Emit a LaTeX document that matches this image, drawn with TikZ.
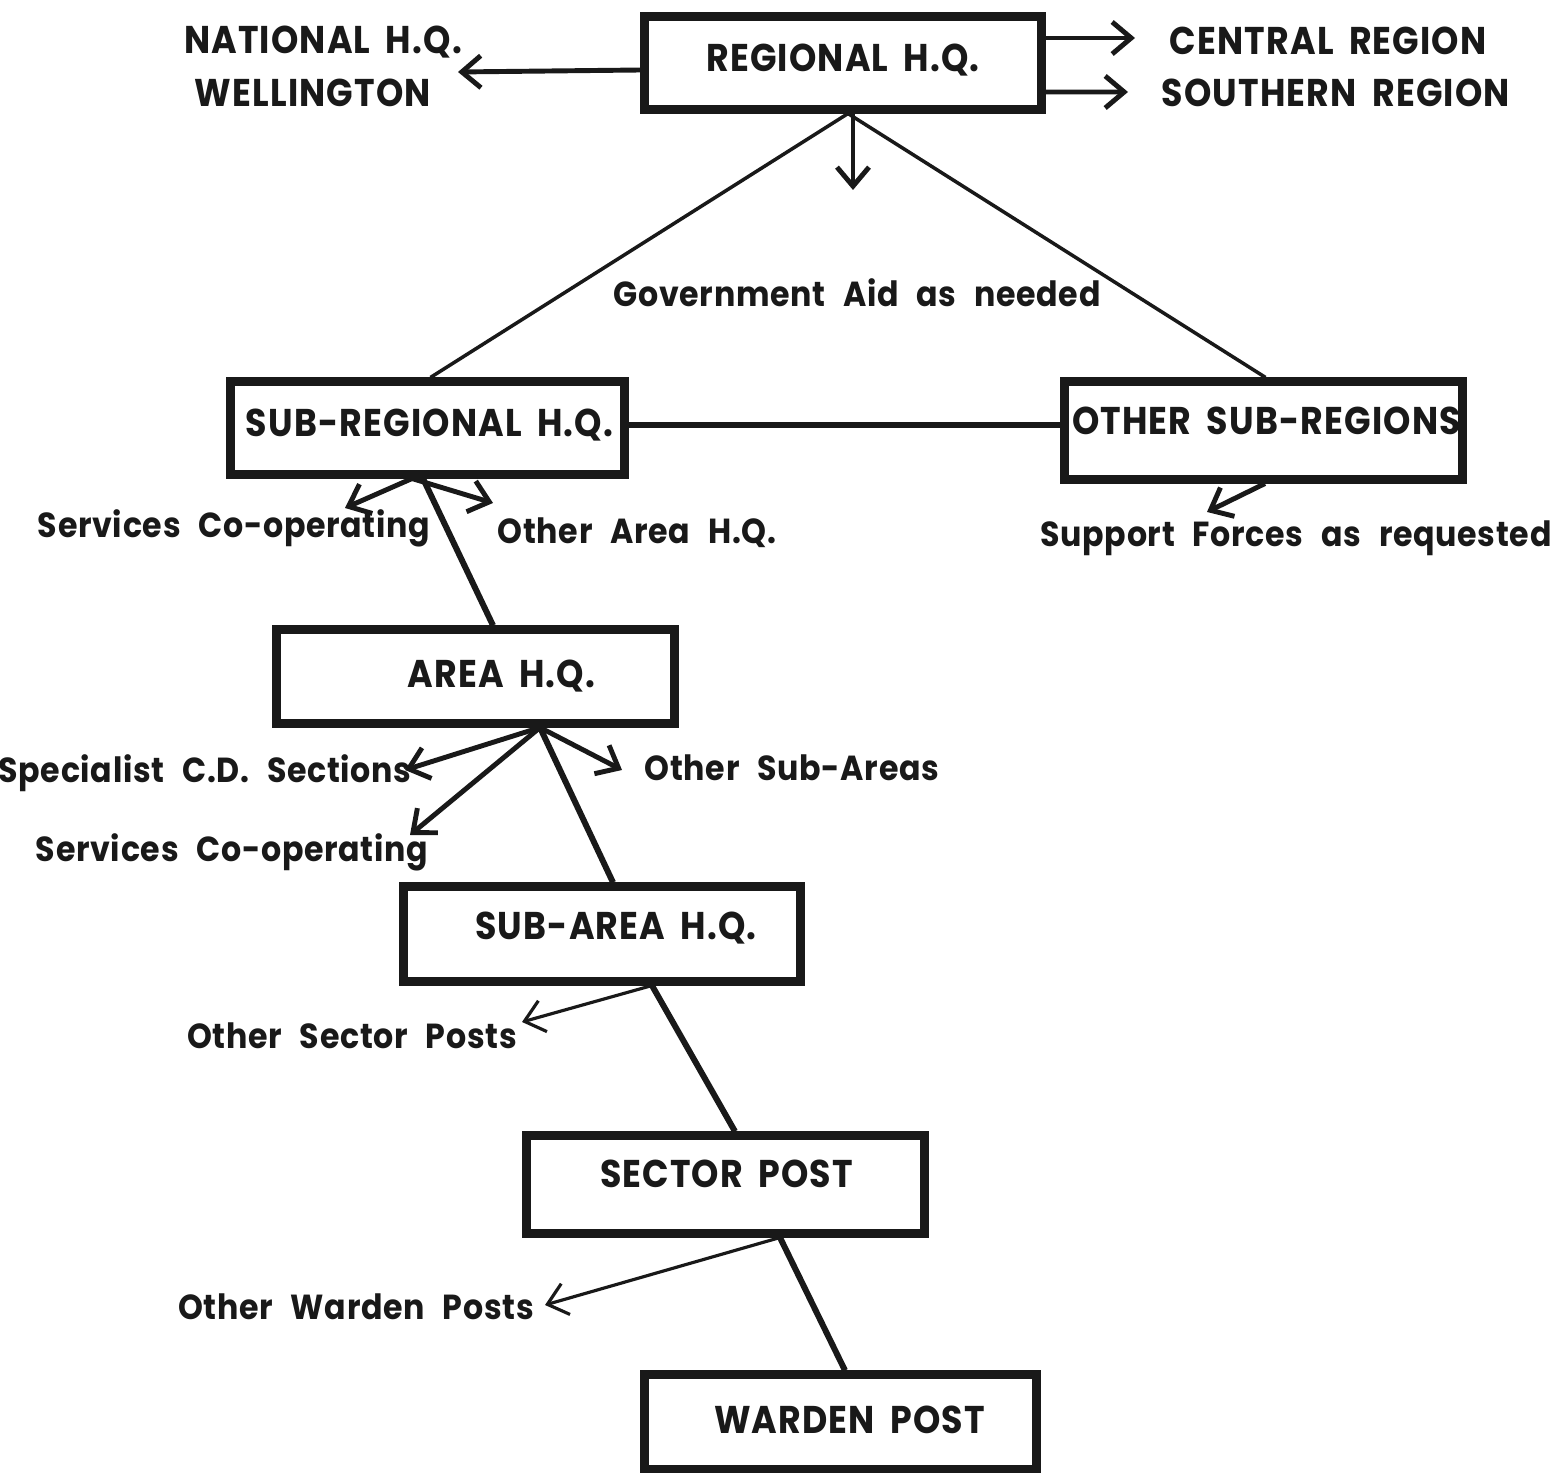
\documentclass[tikz,border=0pt]{standalone}
\usepackage{fontspec}
\usepackage{tikz}
\usetikzlibrary{arrows.meta,positioning}
\setmainfont{Poppins}[WordSpace=1.6]
\newfontfamily\cdfont{Poppins}[FakeStretch=0.9,LetterSpace=3,WordSpace=1.8]
\newfontfamily\cdnotefont{Poppins}[FakeStretch=0.91,LetterSpace=2,WordSpace=2.4]
\definecolor{cd@ink}{RGB}{25,25,25}
% text placed off-centre inside a box: x shift (doubled), raise, text
\newcommand{\offtext}[3]{\hspace*{#1}\raisebox{#2}[\height][\depth]{#3}}
\tikzset{
  cdchart/.style={
    line width=1pt,
    >={Straight Barb[length=1.9mm,width=3.2mm]}
  },
  hqbox/.style={                   % headquarters / post box
    draw=cd@ink, line width=2.3pt,
    inner sep=0pt,
    minimum width=3.97cm,
    minimum height=0.95cm,
    text=cd@ink,
    font=\cdfont\bfseries\fontsize{11}{13}\selectfont
  },
  capnote/.style={                 % upper-case side label
    inner sep=0pt, text=cd@ink,
    font=\cdfont\bfseries\fontsize{11}{13}\selectfont
  },
  note/.style={                    % lower-case side label
    inner sep=0pt, text=cd@ink,
    font=\cdnotefont\bfseries\fontsize{9.9}{11}\selectfont
  },
  chain/.style={draw=cd@ink, line width=1.7pt},
  spoke/.style={draw=cd@ink, line width=1pt},
  fan/.style={->, draw=cd@ink, line width=1.4pt},
  thinfan/.style={->, draw=cd@ink, line width=0.9pt}
}

\begin{document}
\begin{tikzpicture}[cdchart]
\useasboundingbox (0,0) rectangle (15.55,-14.73);

% Boxes
\node[hqbox, minimum height=0.93cm] (regional) at (8.43,-0.63) {\offtext{0cm}{0.03cm}{REGIONAL H.Q.}};
\node[hqbox, minimum width=3.94cm, minimum height=0.93cm] (subreg) at (4.275,-4.28) {\offtext{0.04cm}{0.03cm}{SUB-REGIONAL H.Q.}};
\node[hqbox, minimum width=3.98cm, minimum height=0.98cm] (othersub) at (12.635,-4.305) {\offtext{0.06cm}{0.10cm}{OTHER SUB-REGIONS}};
\node[hqbox, minimum width=3.98cm, minimum height=0.94cm] (area) at (4.755,-6.765) {\offtext{0.52cm}{0cm}{AREA H.Q.}};
\node[hqbox] (subarea) at (6.02,-9.34) {\offtext{0.28cm}{0.06cm}{SUB-AREA H.Q.}};
\node[hqbox, minimum width=3.98cm, minimum height=0.98cm] (sector) at (7.255,-11.845) {\offtext{0.02cm}{0.11cm}{SECTOR POST}};
\node[hqbox, minimum width=3.92cm] (warden) at (8.405,-14.22) {\offtext{0.18cm}{0.02cm}{WARDEN POST}};

% Side labels
\node[capnote] (national) at (3.23,-0.425) {NATIONAL H.Q.};
\node[capnote] (wellington) at (3.13,-0.93) {WELLINGTON};
\node[capnote, anchor=west] (central) at (11.68,-0.41) {CENTRAL REGION};
\node[capnote, anchor=west] (southern) at (11.60,-0.93) {SOUTHERN REGION};
\node[note] (aid) at (8.57,-2.93) {Government Aid as needed};
\node[note] (servicesA) at (2.34,-5.28) {Services Co-operating};
\node[note] (otherarea) at (6.37,-5.33) {Other Area H.Q.};
\node[note] (support) at (12.96,-5.38) {Support Forces as requested};
\node[note] (specialist) at (2.05,-7.73) {Specialist C.D. Sections};
\node[note] (othersubarea) at (7.92,-7.68) {Other Sub-Areas};
\node[note] (servicesB) at (2.32,-8.52) {Services Co-operating};
\node[note] (othersector) at (3.52,-10.36) {Other Sector Posts};
\node[note] (otherwarden) at (3.56,-13.07) {Other Warden Posts};

% Arrow tips
\coordinate (natTip) at (4.58,-0.72);
\coordinate (centTip) at (11.35,-0.38);
\coordinate (southTip) at (11.28,-0.92);
\coordinate (aidTip) at (8.53,-1.90);
\coordinate (servATip) at (3.45,-5.08);
\coordinate (areaTip) at (4.93,-5.03);
\coordinate (supTip) at (12.07,-5.12);
\coordinate (specTip) at (4.05,-7.70);
\coordinate (servBTip) at (4.10,-8.35);
\coordinate (subTip) at (6.22,-7.70);
\coordinate (sectTip) at (5.22,-10.22);
\coordinate (wardTip) at (5.45,-13.05);

% Regional H.Q.
\draw[fan] ([yshift=-0.07cm]regional.west) -- (natTip);
\draw[fan] ([yshift=0.25cm]regional.east) -- (centTip);
\draw[fan] ([yshift=-0.29cm]regional.east) -- (southTip);
\draw[fan] ([xshift=0.10cm]regional.south) -- (aidTip);
\draw[spoke] ([xshift=0.05cm]regional.south) -- ([xshift=0.03cm]subreg.north);
\draw[spoke] ([xshift=0.05cm]regional.south) -- ([xshift=0.02cm]othersub.north);

% Sub-regions
\draw[chain] ([yshift=0.03cm]subreg.east) -- ([yshift=0.03cm]subreg.east -| othersub.west);
\draw[fan] ([xshift=-0.155cm]subreg.south) -- (servATip);
\draw[fan] ([xshift=-0.155cm]subreg.south) -- (areaTip);
\draw[chain] ([xshift=-0.045cm]subreg.south) -- ([xshift=0.175cm]area.north);
\draw[fan] ([xshift=0.015cm]othersub.south) -- (supTip);

% Area H.Q.
\draw[fan] ([xshift=0.645cm]area.south) -- (specTip);
\draw[fan] ([xshift=0.645cm]area.south) -- (servBTip);
\draw[fan] ([xshift=0.645cm]area.south) -- (subTip);
\draw[chain] ([xshift=0.645cm]area.south) -- ([xshift=0.11cm]subarea.north);

% Sub-area and sector posts
\draw[thinfan] ([xshift=0.50cm]subarea.south) -- (sectTip);
\draw[chain] ([xshift=0.50cm]subarea.south) -- ([xshift=0.095cm]sector.north);
\draw[thinfan] ([xshift=0.545cm]sector.south) -- (wardTip);
\draw[chain] ([xshift=0.545cm]sector.south) -- ([xshift=0.045cm]warden.north);

\end{tikzpicture}
\end{document}
